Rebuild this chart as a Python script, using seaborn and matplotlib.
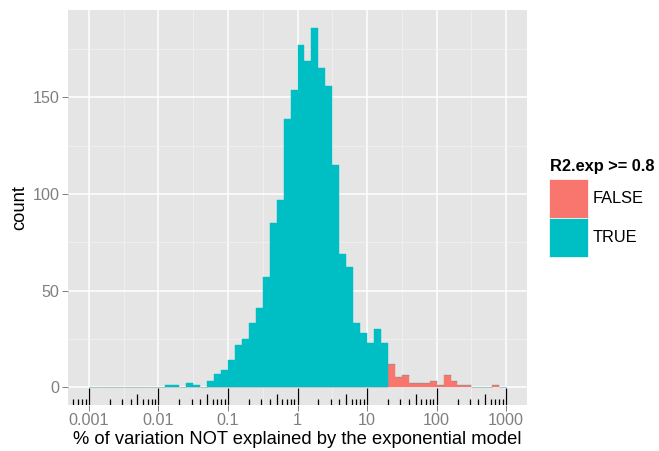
import numpy as np
import pandas as pd
import matplotlib
matplotlib.use('Agg')
import matplotlib.pyplot as plt
import seaborn as sns
from matplotlib.patches import Patch
from matplotlib.ticker import FixedLocator, MultipleLocator, NullFormatter
from matplotlib.colors import to_rgba

# log10 bin midpoints (bins are 0.1 decade wide) and counts
true_mid = [-1.85, -1.75, -1.55, -1.45, -1.25, -1.15, -1.05, -0.95, -0.85, -0.75,
            -0.65, -0.55, -0.45, -0.35, -0.25, -0.15, -0.05, 0.05, 0.15, 0.25,
            0.35, 0.45, 0.55, 0.65, 0.75, 0.85, 0.95, 1.05, 1.15, 1.25]
true_count = [1, 1, 2, 1, 3, 7, 9, 14, 22, 25,
              33, 41, 57, 85, 97, 139, 154, 177, 169, 186,
              165, 156, 115, 69, 62, 33, 28, 23, 30, 23]
false_mid = [1.35, 1.45, 1.55, 1.65, 1.75, 1.85, 1.95, 2.05, 2.15, 2.25, 2.35, 2.45, 2.85]
false_count = [12, 5, 6, 2, 2, 2, 3, 1, 6, 3, 1, 1, 1]

x_ticks = [0.001, 0.01, 0.1, 1, 10, 100, 1000]
x_labels = ['0.001', '0.01', '0.1', '1', '10', '100', '1000']
groups = ['FALSE', 'TRUE']
pal = {'FALSE': '#F8766D', 'TRUE': '#00BFC4'}

df = pd.DataFrame({
    'pct': 10.0 ** np.array(true_mid + false_mid),
    'n': true_count + false_count,
    'R2': ['TRUE'] * len(true_mid) + ['FALSE'] * len(false_mid),
})

plt.rcParams['font.family'] = ['Liberation Sans', 'DejaVu Sans']

fig = plt.figure(figsize=(6.59, 4.51), dpi=100)
ax = fig.add_axes([68 / 659, 1 - 405 / 451, 459 / 659, 395 / 451])
ax.set_facecolor('#E5E5E5')
ax.set_axisbelow(True)

sns.histplot(data=df, x='pct', weights='n', hue='R2', hue_order=['TRUE', 'FALSE'],
             multiple='stack', log_scale=True, binwidth=0.1, binrange=(-3, 3),
             palette=pal, alpha=1, linewidth=0, legend=False, ax=ax)

# empty bins show as a faint line, like ggplot
for p in ax.patches:
    if p.get_height() == 0:
        p.set_edgecolor(to_rgba(p.get_facecolor(), 0.4))
        p.set_linewidth(0.6)
    else:
        p.set_edgecolor(p.get_facecolor())
        p.set_linewidth(0.3)

xlo, xhi = 10 ** -3.3, 10 ** 3.3
ymax = max(np.array(true_count).max(), np.array(false_count).max())
ax.set_xlim(xlo, xhi)
ax.set_ylim(-0.05 * ymax, 1.05 * ymax)

ax.set_xticks(x_ticks)
ax.set_xticklabels(x_labels)
ax.xaxis.set_minor_locator(FixedLocator(10.0 ** np.arange(-3.5, 3.6, 1)))
ax.xaxis.set_minor_formatter(NullFormatter())
ax.yaxis.set_major_locator(MultipleLocator(50))
ax.yaxis.set_minor_locator(MultipleLocator(25))

ax.grid(which='major', color='white', lw=1.1)
ax.grid(which='minor', color='#F2F2F2', lw=0.55)
for s in ax.spines.values():
    s.set_visible(False)
ax.tick_params(which='major', length=4, width=0.7, color='#7F7F7F',
               labelcolor='#7F7F7F', labelsize=11.6, pad=2)
ax.tick_params(which='minor', length=0)

# log ticks along the bottom of the panel
xs, hs = [], []
for d in range(-4, 4):
    for k in range(1, 10):
        v = k * 10.0 ** d
        if xlo <= v <= xhi:
            xs.append(v)
            hs.append(0.043 if k == 1 else (0.028 if k == 5 else 0.015))
ax.vlines(xs, 0, hs, transform=ax.get_xaxis_transform(), colors='black', lw=0.9, zorder=3)

ax.set_xlabel('% of variation NOT explained by the exponential model', fontsize=13.2, labelpad=2)
ax.set_ylabel('count', fontsize=13.2, labelpad=3)

# legend: title as its own text so the gap above the keys matches
fig.text(550 / 659, 1 - 166 / 451, 'R2.exp >= 0.8', fontsize=11.8, fontweight='bold',
         ha='left', va='center')
handles = [Patch(facecolor=pal[g], edgecolor='white', lw=0.5) for g in groups]
leg = fig.legend(handles, groups, loc='upper left',
                 bbox_to_anchor=(549 / 659, 1 - 179 / 451), frameon=False,
                 fontsize=11.8, handlelength=2.35, handleheight=3.3, labelspacing=0,
                 handletextpad=0.3, borderpad=0, borderaxespad=0)

fig.savefig('out.png', dpi=100)
